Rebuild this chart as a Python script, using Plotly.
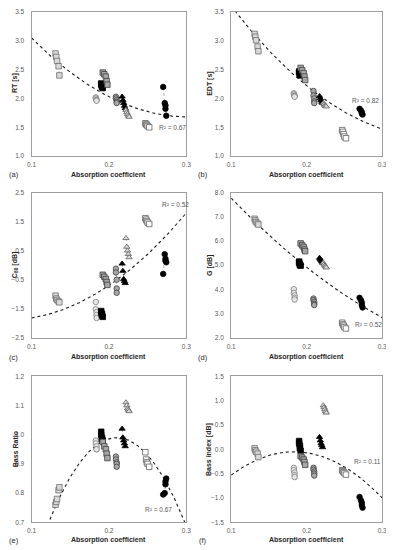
import numpy as np
import plotly.graph_objects as go

# ---------------- data ----------------
# absorption coefficient per point for each measurement group
X_SQA = [0.131, 0.132, 0.133, 0.135, 0.136]
X_CIRCO = [0.183, 0.183, 0.184, 0.184, 0.184]
X_SQK = [0.190, 0.190, 0.191, 0.191, 0.192]
X_SQG = [0.192, 0.194, 0.196, 0.197, 0.198]
X_CIRCG = [0.209, 0.209, 0.210, 0.210, 0.210]
X_TRIK = [0.217, 0.218, 0.219, 0.220, 0.221]
X_TRIO = [0.222, 0.223, 0.224, 0.225, 0.226]
X_SQO = [0.247, 0.248, 0.249, 0.250, 0.252]
X_CIRCK = [0.270, 0.272, 0.273, 0.273, 0.274]

# values per panel, groups in the order above
RT_Y = [[2.78, 2.72, 2.65, 2.56, 2.40], [2.02, 2.00, 1.98, 1.97, 1.96],
        [2.26, 2.24, 2.22, 2.20, 2.18], [2.45, 2.42, 2.38, 2.30, 2.24],
        [2.03, 2.00, 1.97, 1.94, 1.92], [2.03, 1.97, 1.92, 1.87, 1.83],
        [1.80, 1.76, 1.73, 1.70, 1.68], [1.57, 1.55, 1.54, 1.52, 1.50],
        [2.20, 1.92, 1.88, 1.82, 1.70]]
EDT_Y = [[3.12, 3.07, 3.01, 2.90, 2.82], [2.09, 2.07, 2.05, 2.04, 2.03],
         [2.47, 2.45, 2.43, 2.41, 2.40], [2.53, 2.49, 2.44, 2.38, 2.32],
         [2.13, 2.05, 2.00, 1.95, 1.92], [2.04, 2.00, 1.97, 1.94, 1.92],
         [1.92, 1.90, 1.88, 1.87, 1.86], [1.45, 1.42, 1.38, 1.34, 1.31],
         [1.82, 1.79, 1.76, 1.74, 1.72]]
C80_Y = [[-1.05, -1.15, -1.20, -1.25, -1.28], [-1.27, -1.52, -1.62, -1.72, -1.82],
         [-1.58, -1.63, -1.68, -1.73, -1.78], [-0.33, -0.40, -0.48, -0.58, -0.68],
         [-0.12, -0.25, -0.50, -0.80, -0.95], [0.05, -0.20, -0.48, -0.55, -0.62],
         [0.93, 0.63, 0.50, 0.38, 0.27], [1.62, 1.57, 1.52, 1.47, 1.42],
         [-0.30, 0.38, 0.22, 0.15, 0.10]]
G_Y = [[6.92, 6.85, 6.78, 6.72, 6.68], [4.01, 3.85, 3.75, 3.65, 3.58],
       [5.15, 5.10, 5.05, 5.00, 4.98], [5.90, 5.82, 5.75, 5.65, 5.58],
       [3.62, 3.55, 3.48, 3.40, 3.35], [5.30, 5.25, 5.20, 5.15, 5.10],
       [5.10, 5.03, 4.98, 4.94, 4.90], [2.62, 2.55, 2.50, 2.44, 2.38],
       [3.65, 3.55, 3.45, 3.35, 3.25]]
BR_Y = [[0.76, 0.77, 0.78, 0.81, 0.82], [0.98, 0.97, 0.96, 0.95, 0.95],
        [1.01, 1.00, 0.99, 0.985, 0.98], [0.975, 0.96, 0.95, 0.935, 0.92],
        [0.925, 0.915, 0.905, 0.90, 0.89], [1.02, 0.99, 0.98, 0.97, 0.96],
        [1.11, 1.10, 1.09, 1.085, 1.08], [0.94, 0.915, 0.905, 0.90, 0.89],
        [0.795, 0.80, 0.83, 0.84, 0.85]]
BI_Y = [[0.02, -0.02, -0.05, -0.09, -0.16], [-0.38, -0.43, -0.48, -0.53, -0.57],
        [0.17, 0.12, 0.07, 0.02, -0.03], [-0.14, -0.17, -0.21, -0.26, -0.32],
        [-0.38, -0.42, -0.46, -0.50, -0.54], [0.25, 0.18, 0.12, 0.08, 0.04],
        [0.90, 0.86, 0.82, 0.78, 0.75], [-0.43, -0.45, -0.47, -0.49, -0.52],
        [-0.98, -1.05, -1.10, -1.15, -1.20]]

# quadratic trend lines: values read at x = 0.1, 0.2, 0.3
TREND_X = [0.1, 0.2, 0.3]
RT_TREND = [3.05, 2.03, 1.68]
EDT_TREND = [3.60, 2.22, 1.47]
C80_TREND = [-1.82, -0.70, 1.80]
G_TREND = [7.77, 4.91, 2.83]
BR_TREND = [0.536, 0.986, 0.686]
BI_TREND = [-0.53, -0.07, -1.00]

R2_TEXT = ["R² = 0.67", "R² = 0.82", "R² = 0.52", "R² = 0.52", "R² = 0.67", "R² = 0.11"]
Y_TITLES = ["RT [s]", "EDT [s]", "C<sub>80</sub> [dB]", "G [dB]", "Bass Ratio", "Bass index [dB]"]
PANEL_LABELS = ["(a)", "(b)", "(c)", "(d)", "(e)", "(f)"]
X_TICKS = [0.1, 0.2, 0.3]

# ---------------- styling ----------------
GROUP_X = [X_SQA, X_CIRCO, X_SQK, X_SQG, X_CIRCG, X_TRIK, X_TRIO, X_SQO, X_CIRCK]
STYLES = [
    dict(symbol="square", color="#d9d9d9", line=dict(color="#6f6f6f", width=0.8)),
    dict(symbol="circle", color="#e6e6e6", line=dict(color="#7f7f7f", width=0.8)),
    dict(symbol="square", color="#000000", line=dict(color="#000000", width=0.8)),
    dict(symbol="square", color="#a6a6a6", line=dict(color="#404040", width=0.8)),
    dict(symbol="circle", color="#a6a6a6", line=dict(color="#404040", width=0.8)),
    dict(symbol="triangle-up", color="#000000", line=dict(color="#000000", width=0.8)),
    dict(symbol="triangle-up", color="#d9d9d9", line=dict(color="#606060", width=0.8)),
    dict(symbol="square", color="#ffffff", line=dict(color="#606060", width=0.8)),
    dict(symbol="circle", color="#000000", line=dict(color="#000000", width=0.8)),
]

# the page body adds an 8px margin, so the figure is drawn 8px smaller
# and every reference pixel position is shifted by that offset
OFF = 8
W, H = 394 - OFF, 550 - OFF
def px(x):
    return min(max((x - OFF) / W, 0.0), 1.0)
def py(y):
    return min(max(1 - (y - OFF) / H, 0.0), 1.0)

COLS = [(27, 186), (232, 387)]
ROWS = [(6, 154), (191, 338), (377, 525)]
X_TITLE_Y = [173, 358, 543]
YTITLE_X = [10, 210]
LABEL_X = [9, 203]

panels = [
    dict(y=RT_Y, trend=RT_TREND, yr=[1.0, 3.5], dt=0.5, r2=(0.262, 1.49)),
    dict(y=EDT_Y, trend=EDT_TREND, yr=[1.0, 3.5], dt=0.5, r2=(0.258, 1.97)),
    dict(y=C80_Y, trend=C80_TREND, yr=[-2.5, 2.5], dt=1.0, r2=(0.266, 2.08)),
    dict(y=G_Y, trend=G_TREND, yr=[2.0, 8.0], dt=1.0, r2=(0.262, 2.56)),
    dict(y=BR_Y, trend=BR_TREND, yr=[0.7, 1.2], dt=0.1, r2=(0.244, 0.745)),
    dict(y=BI_Y, trend=BI_TREND, yr=[-1.5, 1.5], dt=0.5, r2=(0.260, -0.245)),
]

FONT = "Liberation Sans, Arial, sans-serif"
fig = go.Figure()
annotations = []
xgrid = np.linspace(0.1, 0.3, 121)

for i, p in enumerate(panels):
    n = i + 1
    xa = "x" if n == 1 else f"x{n}"
    ya = "y" if n == 1 else f"y{n}"
    col, row = i % 2, i // 2
    # trend line
    coef = np.polyfit(TREND_X, p["trend"], 2)
    fig.add_trace(go.Scatter(x=xgrid, y=np.polyval(coef, xgrid), mode="lines",
                             line=dict(color="#1a1a1a", width=1.1, dash="dot"),
                             xaxis=xa, yaxis=ya, showlegend=False, hoverinfo="skip"))
    for gx, gy, st in zip(GROUP_X, p["y"], STYLES):
        fig.add_trace(go.Scatter(
            x=gx, y=gy, mode="lines+markers",
            line=dict(color="#8c8c8c", width=0.7, dash="dot"),
            marker=dict(symbol=st["symbol"], size=5.5, color=st["color"], line=st["line"]),
            xaxis=xa, yaxis=ya, showlegend=False, cliponaxis=False))
    x0, x1 = COLS[col]
    y0, y1 = ROWS[row]
    axstyle = dict(showline=True, mirror=True, linecolor="#9e9e9e", linewidth=1,
                   showgrid=False, zeroline=False, ticks="",
                   tickfont=dict(family=FONT, size=6.5, color="#595959"))
    fig.update_layout(**{
        ("xaxis" if n == 1 else f"xaxis{n}"): dict(
            domain=[px(x0), px(x1)], range=[0.1, 0.3], tickvals=X_TICKS,
            ticktext=[f"{v:.1f}" for v in X_TICKS], anchor=ya,
            ticklabelstandoff=2, **axstyle),
        ("yaxis" if n == 1 else f"yaxis{n}"): dict(
            domain=[py(y1), py(y0)], range=p["yr"], dtick=p["dt"], tick0=p["yr"][0],
            tickformat=".1f", anchor=xa, ticklabelstandoff=5, **axstyle),
    })
    # R^2 label
    annotations.append(dict(x=p["r2"][0], y=p["r2"][1], xref=xa, yref=ya,
                            text=R2_TEXT[i], showarrow=False, xanchor="left", yanchor="middle",
                            font=dict(family=FONT, size=6.5, color="#595959")))
    # x-axis title
    annotations.append(dict(x=px((x0 + x1) / 2), y=py(X_TITLE_Y[row]), xref="paper", yref="paper",
                            text="<b>Absorption coefficient</b>", showarrow=False,
                            xanchor="center", yanchor="middle",
                            font=dict(family=FONT, size=7, color="#262626")))
    # y-axis title
    annotations.append(dict(x=px(YTITLE_X[col]), y=py((y0 + y1) / 2), xref="paper", yref="paper",
                            text=f"<b>{Y_TITLES[i]}</b>", showarrow=False, textangle=-90,
                            xanchor="center", yanchor="middle",
                            font=dict(family=FONT, size=7, color="#262626")))
    # panel label
    annotations.append(dict(x=px(LABEL_X[col]), y=py(X_TITLE_Y[row]), xref="paper", yref="paper",
                            text=PANEL_LABELS[i], showarrow=False,
                            xanchor="center", yanchor="middle",
                            font=dict(family=FONT, size=7.5, color="#262626")))

fig.update_layout(width=W, height=H, autosize=False,
                  margin=dict(l=0, r=0, t=0, b=0),
                  paper_bgcolor="white", plot_bgcolor="white",
                  annotations=annotations, showlegend=False)
fig.write_html("out.html")
